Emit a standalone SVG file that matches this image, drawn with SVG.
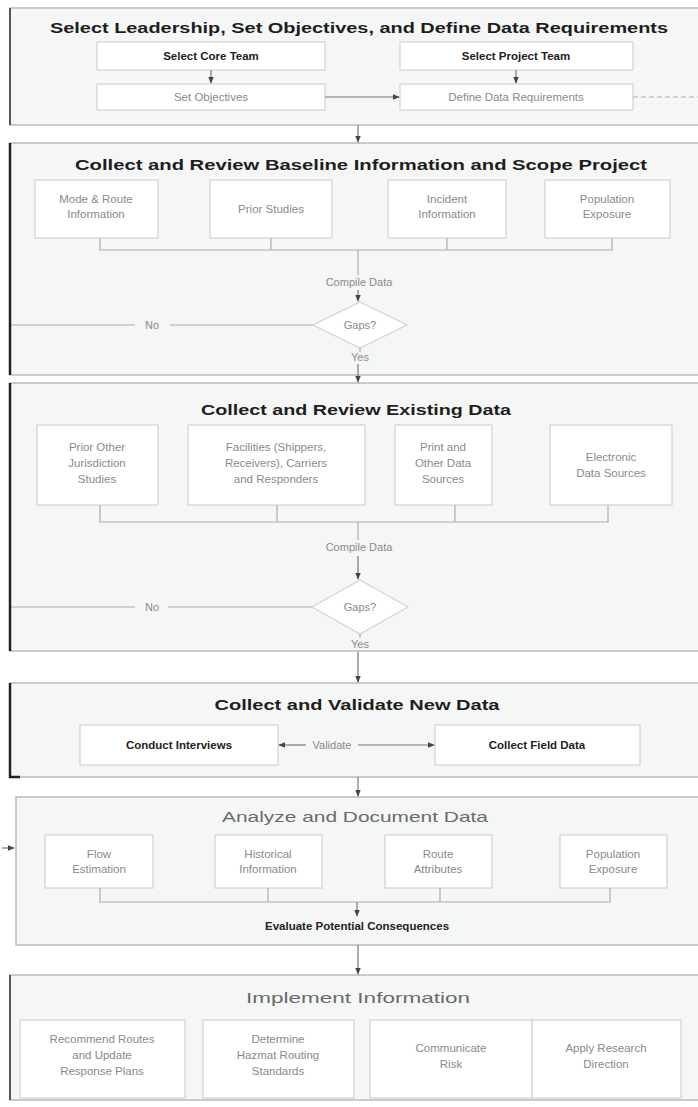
<svg xmlns="http://www.w3.org/2000/svg" width="698" height="1107" viewBox="0 0 698 1107">
<defs>
<marker id="ah" viewBox="0 0 10 10" refX="9" refY="5" markerWidth="6" markerHeight="6" orient="auto-start-reverse"><path d="M0,1 L10,5 L0,9 z" fill="#444"/></marker>
<style>
.sec{fill:#f5f7f6;stroke:#b8bcba;stroke-width:1.5}
.box{fill:#ffffff;stroke:#cfd3d1;stroke-width:1.2}
.t{font-family:"Liberation Sans",Arial,sans-serif;font-size:15px;font-weight:bold;fill:#1e1e1e;text-anchor:middle}
.tg{font-family:"Liberation Sans",Arial,sans-serif;font-size:15px;fill:#6a6a6a;text-anchor:middle}
.b{font-family:"Liberation Sans",Arial,sans-serif;font-size:11.5px;fill:#8a8a8a;text-anchor:middle}
.bd{font-family:"Liberation Sans",Arial,sans-serif;font-size:11.5px;font-weight:bold;fill:#222;text-anchor:middle}
.l{font-family:"Liberation Sans",Arial,sans-serif;font-size:11px;fill:#8a8a8a;text-anchor:middle}
.c{fill:none;stroke:#a9adab;stroke-width:1.2}
.ca{fill:none;stroke:#777;stroke-width:1.2;marker-end:url(#ah)}
.edge{fill:none;stroke:#222;stroke-width:2.5}
.dia{fill:#ffffff;stroke:#cfd3d1;stroke-width:1.2}
</style>
</defs>
<rect width="698" height="1107" fill="#ffffff"/>

<g id="section1">
<rect class="sec" x="10" y="8" width="700" height="117"/>
<text class="t" x="359" y="33" textLength="618" lengthAdjust="spacingAndGlyphs">Select Leadership, Set Objectives, and Define Data Requirements</text>
</g>
<g id="n-select-core-team"><rect class="box" x="97" y="42" width="228" height="28"/><text class="bd" x="211" y="60">Select Core Team</text></g>
<g id="n-select-project-team"><rect class="box" x="400" y="42" width="233" height="28"/><text class="bd" x="516" y="60">Select Project Team</text></g>
<g id="n-set-objectives"><rect class="box" x="97" y="84" width="228" height="26"/><text class="b" x="211" y="101">Set Objectives</text></g>
<g id="n-define-data"><rect class="box" x="400" y="84" width="233" height="26"/><text class="b" x="516" y="101">Define Data Requirements</text></g>

<g id="section2">
<rect class="sec" x="10" y="143" width="700" height="232"/>
<text class="t" x="361" y="170" textLength="572" lengthAdjust="spacingAndGlyphs">Collect and Review Baseline Information and Scope Project</text>
</g>
<g id="n-mode-route"><rect class="box" x="35" y="180" width="123" height="58"/><text class="b" x="96" y="203">Mode &amp; Route</text><text class="b" x="96" y="218">Information</text></g>
<g id="n-prior-studies"><rect class="box" x="210" y="180" width="122" height="58"/><text class="b" x="271" y="213">Prior Studies</text></g>
<g id="n-incident-info"><rect class="box" x="388" y="180" width="118" height="58"/><text class="b" x="447" y="203">Incident</text><text class="b" x="447" y="218">Information</text></g>
<g id="n-population-exposure"><rect class="box" x="545" y="180" width="125" height="58"/><text class="b" x="607" y="203">Population</text><text class="b" x="607" y="218">Exposure</text></g>
<g id="n-compile1"><text class="l" x="359" y="286">Compile Data</text></g>
<g id="n-gaps1"><polygon class="dia" points="360,302 407,325 360,348 313,325"/><text class="l" x="360" y="329">Gaps?</text></g>

<g id="section3">
<rect class="sec" x="10" y="383" width="700" height="268"/>
<text class="t" x="356" y="415" textLength="310" lengthAdjust="spacingAndGlyphs">Collect and Review Existing Data</text>
</g>
<g id="n-prior-other"><rect class="box" x="37" y="425" width="121" height="80"/><text class="b" x="97" y="451">Prior Other</text><text class="b" x="97" y="467">Jurisdiction</text><text class="b" x="97" y="483">Studies</text></g>
<g id="n-facilities"><rect class="box" x="188" y="425" width="177" height="80"/><text class="b" x="276" y="451">Facilities (Shippers,</text><text class="b" x="276" y="467">Receivers), Carriers</text><text class="b" x="276" y="483">and Responders</text></g>
<g id="n-print-other"><rect class="box" x="395" y="425" width="97" height="80"/><text class="b" x="443" y="451">Print and</text><text class="b" x="443" y="467">Other Data</text><text class="b" x="443" y="483">Sources</text></g>
<g id="n-electronic"><rect class="box" x="550" y="425" width="122" height="80"/><text class="b" x="611" y="461">Electronic</text><text class="b" x="611" y="477">Data Sources</text></g>
<g id="n-compile2"><text class="l" x="359" y="551">Compile Data</text></g>
<g id="n-gaps2"><polygon class="dia" points="360,580 408,607 360,634 312,607"/><text class="l" x="360" y="611">Gaps?</text></g>

<g id="section4">
<rect class="sec" x="10" y="683" width="700" height="94"/>
<text class="t" x="357" y="710" textLength="285" lengthAdjust="spacingAndGlyphs">Collect and Validate New Data</text>
</g>
<g id="n-conduct-interviews"><rect class="box" x="80" y="725" width="198" height="40"/><text class="bd" x="179" y="749">Conduct Interviews</text></g>
<g id="n-collect-field"><rect class="box" x="435" y="725" width="205" height="40"/><text class="bd" x="537" y="749">Collect Field Data</text></g>

<g id="section5">
<rect class="sec" x="16" y="797" width="694" height="148"/>
<text class="tg" x="355" y="822" textLength="266" lengthAdjust="spacingAndGlyphs">Analyze and Document Data</text>
</g>
<g id="n-flow-estimation"><rect class="box" x="45" y="835" width="108" height="53"/><text class="b" x="99" y="858">Flow</text><text class="b" x="99" y="873">Estimation</text></g>
<g id="n-historical-info"><rect class="box" x="215" y="835" width="107" height="53"/><text class="b" x="268" y="858">Historical</text><text class="b" x="268" y="873">Information</text></g>
<g id="n-route-attributes"><rect class="box" x="385" y="835" width="107" height="53"/><text class="b" x="438" y="858">Route</text><text class="b" x="438" y="873">Attributes</text></g>
<g id="n-population2"><rect class="box" x="560" y="835" width="107" height="53"/><text class="b" x="613" y="858">Population</text><text class="b" x="613" y="873">Exposure</text></g>
<g id="n-evaluate"><text class="bd" x="357" y="930">Evaluate Potential Consequences</text></g>

<g id="section6">
<rect class="sec" x="10" y="975" width="700" height="125"/>
<text class="tg" x="358" y="1003" textLength="224" lengthAdjust="spacingAndGlyphs">Implement Information</text>
</g>
<g id="n-recommend"><rect class="box" x="20" y="1020" width="165" height="78"/><text class="b" x="102" y="1043">Recommend Routes</text><text class="b" x="102" y="1059">and Update</text><text class="b" x="102" y="1075">Response Plans</text></g>
<g id="n-determine"><rect class="box" x="203" y="1020" width="151" height="78"/><text class="b" x="278" y="1043">Determine</text><text class="b" x="278" y="1059">Hazmat Routing</text><text class="b" x="278" y="1075">Standards</text></g>
<g id="n-communicate"><rect class="box" x="370" y="1020" width="162" height="78"/><text class="b" x="451" y="1052">Communicate</text><text class="b" x="451" y="1068">Risk</text></g>
<g id="n-apply"><rect class="box" x="532" y="1020" width="149" height="78"/><text class="b" x="606" y="1052">Apply Research</text><text class="b" x="606" y="1068">Direction</text></g>

<g id="connectors">
<line class="ca" x1="211" y1="70" x2="211" y2="83"/>
<line class="ca" x1="516" y1="70" x2="516" y2="83"/>
<line class="ca" x1="325" y1="97" x2="399" y2="97"/>
<line class="c" x1="633" y1="97" x2="698" y2="97" stroke-dasharray="5,3"/>
<line class="ca" x1="358" y1="125" x2="358" y2="142"/>
<polyline class="c" points="100,238 100,250 612,250 612,238"/>
<line class="c" x1="271" y1="238" x2="271" y2="250"/>
<line class="c" x1="447" y1="238" x2="447" y2="250"/>
<line class="c" x1="358" y1="250" x2="358" y2="275"/>
<line class="ca" x1="358" y1="290" x2="358" y2="301"/>
<line class="c" x1="313" y1="325" x2="170" y2="325"/>
<line class="c" x1="135" y1="325" x2="10" y2="325"/>
<text class="l" x="152" y="329">No</text>
<line class="c" x1="360" y1="348" x2="360" y2="352"/>
<text class="l" x="360" y="361">Yes</text>
<line class="ca" x1="358" y1="364" x2="358" y2="382"/>
<polyline class="c" points="100,505 100,522 608,522 608,505"/>
<line class="c" x1="277" y1="505" x2="277" y2="522"/>
<line class="c" x1="455" y1="505" x2="455" y2="522"/>
<line class="c" x1="358" y1="522" x2="358" y2="540"/>
<line class="ca" x1="358" y1="556" x2="358" y2="579"/>
<line class="c" x1="312" y1="607" x2="168" y2="607"/>
<line class="c" x1="135" y1="607" x2="10" y2="607"/>
<text class="l" x="152" y="611">No</text>
<line class="c" x1="360" y1="634" x2="360" y2="638"/>
<text class="l" x="360" y="648">Yes</text>
<line class="ca" x1="358" y1="652" x2="358" y2="682"/>
<line class="ca" x1="306" y1="745" x2="279" y2="745"/>
<line class="ca" x1="358" y1="745" x2="434" y2="745"/>
<text class="l" x="332" y="749">Validate</text>
<line class="ca" x1="358" y1="777" x2="358" y2="796"/>
<polyline class="c" points="100,888 100,902 610,902 610,888"/>
<line class="c" x1="268" y1="888" x2="268" y2="902"/>
<line class="c" x1="440" y1="888" x2="440" y2="902"/>
<line class="ca" x1="357" y1="902" x2="357" y2="916"/>
<line class="ca" x1="2" y1="848" x2="14" y2="848"/>
<line class="ca" x1="358" y1="945" x2="358" y2="974"/>
<line class="edge" x1="10" y1="143" x2="10" y2="375"/>
<line class="edge" x1="10" y1="383" x2="10" y2="651"/>
<polyline class="edge" points="10,683 10,777 20,777"/>
<line stroke="#555" stroke-width="2" x1="10" y1="8" x2="10" y2="125"/>
<line stroke="#555" stroke-width="2" x1="10" y1="975" x2="10" y2="1100"/>
</g>
</svg>
